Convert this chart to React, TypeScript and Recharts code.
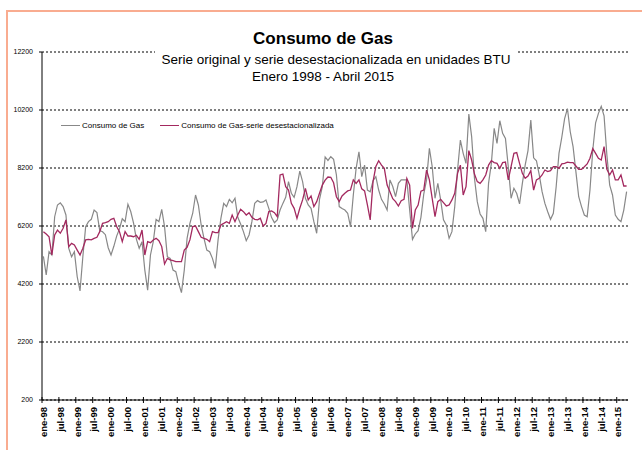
import { CartesianGrid, Line, LineChart, XAxis, YAxis } from "recharts";

const mesesAbrev = ["ene", "feb", "mar", "abr", "may", "jun", "jul", "ago", "sep", "oct", "nov", "dic"];
const anios = ["98", "99", "00", "01", "02", "03", "04", "05", "06", "07", "08", "09", "10", "11", "12", "13", "14", "15"];
const yTicks = [200, 2200, 4200, 6200, 8200, 10200, 12200];

// serie original, ene-98 .. abr-15
const consumoGas = [
  5150, 4510, 5315, 5200, 6520, 6925, 7000, 6870, 6580, 5430, 5140, 5315,
  4450, 3960, 5140, 6180, 6350, 6430, 6750, 6660, 6040, 6000, 5900, 5450,
  5200, 5500, 5850, 6100, 6450, 6350, 6950, 6700, 6300, 5750, 5430, 5660,
  4680, 3990, 5200, 5660, 6430, 6350, 6775, 6180, 5140, 5085, 4680, 4625,
  4225, 3900, 4680, 5775, 6290, 6640, 7270, 6925, 6235, 5775, 5370, 5315,
  5085, 4740, 5720, 6465, 6980, 6870, 7120, 7000, 7155, 6500, 6270, 6005,
  5695, 5890, 6350, 6980, 7075, 7015, 7030, 7100, 6810, 6490, 6315, 6410,
  6750, 6980, 7190, 7730, 7330, 7190, 7555, 8095, 7730, 7155, 6925, 6810,
  6350, 5950, 7120, 7555, 8580, 8460, 8590, 8500, 7960, 6870, 6800, 6750,
  6640, 6180, 7270, 8190, 8760, 7900, 8300, 7440, 7380, 7760, 7900, 7440,
  7120, 6960, 6750, 7790, 7560, 7210, 7670, 7790, 7790, 7790, 6750, 5740,
  5925, 6040, 6500, 7300, 7790, 8880, 8250, 7155, 7670, 7100, 6410, 6235,
  5775, 6005, 6870, 8130, 9165, 8705, 8360, 10060, 9280, 7845, 7040, 6615,
  6465, 6005, 7670, 8360, 9570, 9050, 9830, 9395, 9220, 8245, 7155, 7500,
  7320, 6960, 7670, 8300, 8800, 9850, 8550, 8450, 7960, 7385, 6980, 6690,
  6430, 6640, 7555, 8705, 9260, 9900, 10250, 9450, 8935, 8075, 7210, 6870,
  6580, 6520, 7440, 8820, 9760, 10085, 10330, 10000, 8650, 7610, 7270, 6580,
  6430, 6350, 6750, 7385,
];

// serie desestacionalizada
const consumoDesest = [
  6005, 5925, 5830, 5200, 5890, 6060, 5950, 6120, 6410, 5490, 5600, 5545,
  5370, 5200, 5430, 5720, 5740, 5720, 5775, 5810, 6005, 6290, 6315, 6350,
  6430, 6465, 6180, 6005, 5660, 6005, 5855, 5855, 5830, 5880, 5740, 6060,
  5200, 5660, 5625, 5720, 5775, 5695, 5490, 4890, 5085, 5030, 5005, 4970,
  4970, 4970, 5370, 5465, 5720, 6180, 6200, 6005, 5810, 5775, 5740, 5660,
  6005, 5970, 5970, 6235, 6290, 6350, 6290, 6580, 6350, 6580, 6775, 6695,
  6580, 6660, 6500, 6430, 6410, 6465, 6200, 6290, 6695, 6720, 6660, 6520,
  7960, 7990, 7555, 7440, 6980, 6810, 6465, 6810, 7100, 7500, 7100, 7235,
  6870, 7040, 7330, 7610, 7780, 7890, 7880, 7690, 7210, 7040, 7235, 7330,
  7410, 7440, 7790, 7670, 7790, 7480, 7410, 6925, 6410, 7730, 8250, 8450,
  8300, 8190, 7610, 7380, 7140, 7040, 6890, 7075, 7120, 7840, 7610, 6120,
  6750, 6920, 7400, 7440, 8130, 7790, 7155, 6520, 7040, 7120, 7005, 6890,
  6925, 7100, 7330, 8015, 8300, 7270, 7555, 8800, 8475, 7990, 7730, 7670,
  7790, 7960, 8300, 8450, 8385, 8360, 8190, 8385, 8405, 7790, 8245, 8705,
  8730, 8360, 8015, 7845, 7925, 8110, 7440, 7790, 7845, 7960, 8130, 8075,
  8110, 8245, 8245, 8190, 8340, 8360, 8405, 8385, 8385, 8270, 8155, 8155,
  8245, 8340, 8535, 8870, 8705, 8535, 8475, 8935, 8155, 7960, 8130, 7790,
  7790, 7960, 7580, 7580,
];

const meses = anios.flatMap((a) => mesesAbrev.map((m) => `${m}-${a}`)).slice(0, consumoGas.length);
const data = meses.map((mes, i) => ({ mes, gas: consumoGas[i], desest: consumoDesest[i] }));

const FONT = "'Liberation Sans', Arial, sans-serif";
const GRAY = "#888888";
const PINK = "#a3295f";
const HALF_BAND = 1.4;

// tick mark sits on the band boundary (crossing the axis), label on the month
function MesTick(props: any) {
  const { x, y, payload } = props;
  const ly = y + 7;
  return (
    <g>
      <line x1={x - HALF_BAND} x2={x - HALF_BAND} y1={y - 3} y2={y + 3} stroke="#000" />
      <text
        x={x}
        y={ly}
        transform={`rotate(-90 ${x} ${ly})`}
        textAnchor="end"
        dy="0.35em"
        fontSize={9.5}
        fontWeight="bold"
        fill="#000"
        fontFamily={FONT}
      >
        {payload.value}
      </text>
    </g>
  );
}

export default function App() {
  return (
    <div style={{ position: "fixed", left: 0, top: 0, width: 642, height: 450, background: "#fff", overflow: "hidden", fontFamily: FONT }}>
      <LineChart width={642} height={450} data={data} margin={{ top: 52, right: 14, left: 0, bottom: 0 }}>
        <CartesianGrid vertical={false} stroke="#000" strokeDasharray="2 2" />
        <XAxis
          dataKey="mes"
          interval={5}
          height={50}
          tickSize={0}
          tickMargin={0}
          tickLine={false}
          padding={{ left: HALF_BAND, right: HALF_BAND }}
          axisLine={{ stroke: "#000" }}
          tick={<MesTick />}
        />
        <YAxis
          domain={[200, 12200]}
          ticks={yTicks}
          interval={0}
          width={42}
          tickSize={3}
          tickMargin={6}
          axisLine={{ stroke: "#000" }}
          tickLine={{ stroke: "#000" }}
          tick={{ fontSize: 7, fill: "#000", fontFamily: FONT }}
        />
        <YAxis yAxisId="r" orientation="right" domain={[200, 12200]} width={0} tick={false} tickLine={false} axisLine={{ stroke: "#999" }} />
        <Line type="linear" dataKey="gas" stroke={GRAY} strokeWidth={1.2} dot={false} isAnimationActive={false} />
        <Line type="linear" dataKey="desest" stroke={PINK} strokeWidth={1.3} dot={false} isAnimationActive={false} />
      </LineChart>

      <div
        style={{
          position: "absolute",
          left: 6,
          top: 10,
          width: 660,
          height: 460,
          borderTop: "2px solid #f9ac90",
          borderLeft: "2px solid #f9ac90",
          zIndex: 2,
        }}
      />

      <div style={{ position: "absolute", zIndex: 3, left: 0, width: 646, top: 30, textAlign: "center", fontSize: 17, lineHeight: "17px", fontWeight: "bold", color: "#000" }}>
        Consumo de Gas
      </div>
      <div style={{ position: "absolute", zIndex: 3, left: 155, top: 49, width: 362, height: 36, background: "#fff" }} />
      <div style={{ position: "absolute", zIndex: 4, left: 0, width: 672, top: 52.5, textAlign: "center", fontSize: 13.5, lineHeight: "13.5px", color: "#000" }}>
        Serie original y serie desestacionalizada en unidades BTU
      </div>
      <div style={{ position: "absolute", zIndex: 4, left: 0, width: 646, top: 69.5, textAlign: "center", fontSize: 13.5, lineHeight: "13.5px", color: "#000" }}>
        Enero 1998 - Abril 2015
      </div>

      <div style={{ position: "absolute", zIndex: 3, left: 61, top: 120.5, display: "flex", alignItems: "center", fontSize: 8, lineHeight: "9px", color: "#000" }}>
        <span style={{ width: 19, height: 0, borderTop: `1.3px solid ${GRAY}`, marginRight: 2 }} />
        <span style={{ marginRight: 16 }}>Consumo de Gas</span>
        <span style={{ width: 19, height: 0, borderTop: `1.3px solid ${PINK}`, marginRight: 2 }} />
        <span>Consumo de Gas-serie desestacionalizada</span>
      </div>
    </div>
  );
}
